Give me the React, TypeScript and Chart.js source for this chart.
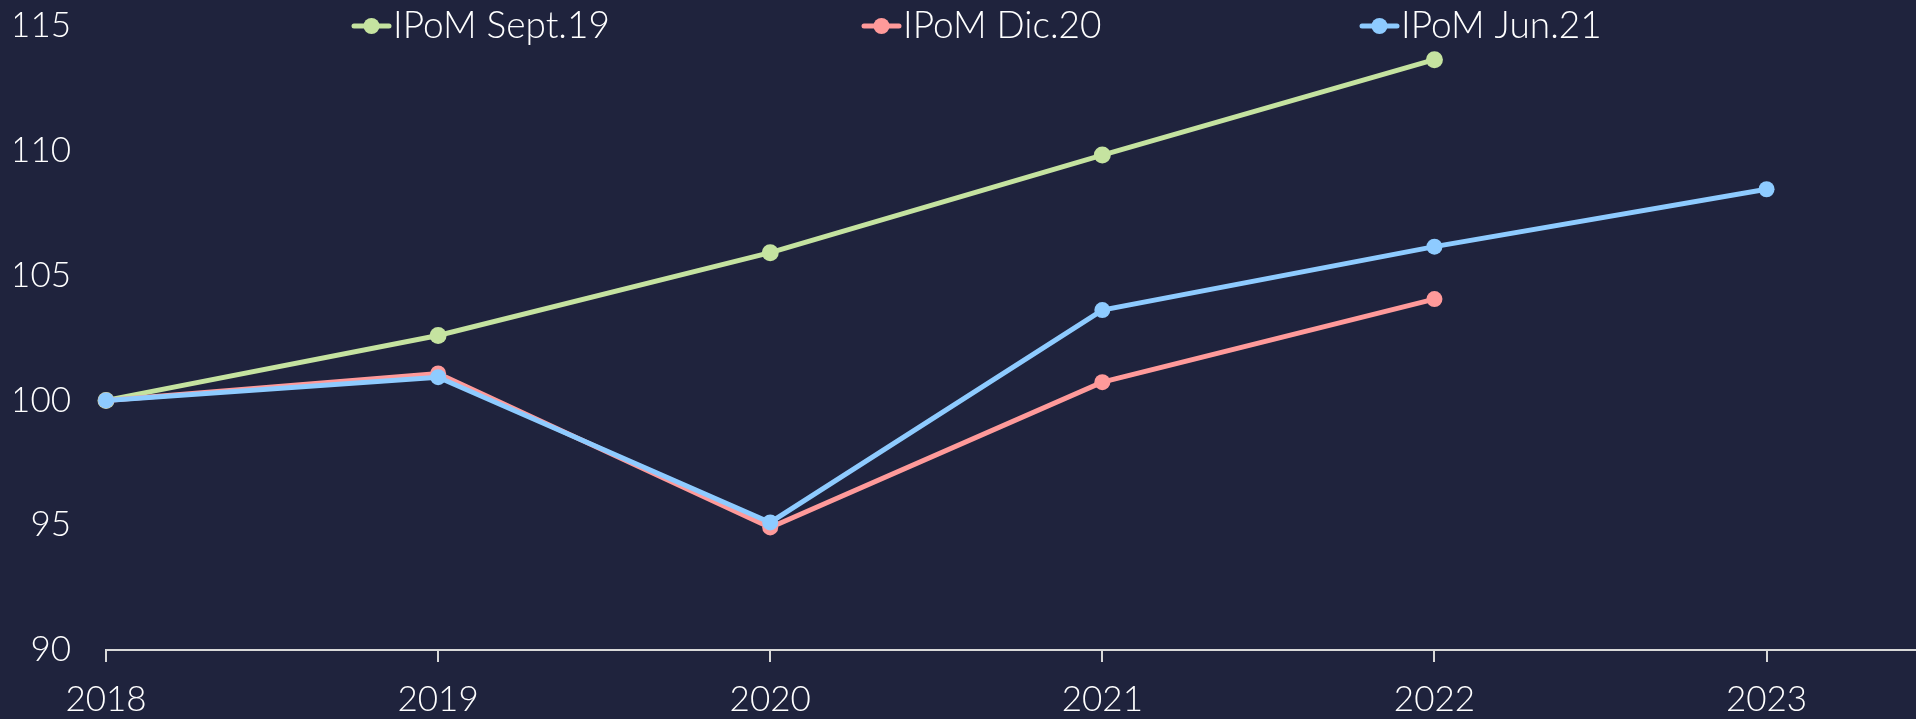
import React, { useEffect, useRef } from "react";
import { Chart, registerables } from "chart.js";

Chart.register(...registerables);

const years = [2018, 2019, 2020, 2021, 2022, 2023];
const seriesNames = ["IPoM Sept.19", "IPoM Dic.20", "IPoM Jun.21"];
const sept19 = [100, 102.6, 105.92, 109.83, 113.65];
const dic20 = [100, 101.08, 94.91, 100.73, 104.06];
const jun21 = [100, 100.93, 95.11, 103.62, 106.16, 108.46];
const yTicks = [90, 95, 100, 105, 110, 115];

const BG = "#1f233d";
const GREEN = "#c5e3a0";
const RED = "#ff9a9a";
const BLUE = "#8ecbff";
const FONT = "Lato, 'Open Sans', sans-serif";
const AXIS_FONT_SIZE = 35;
const LEGEND_FONT_SIZE = 37;
const FONT_WEIGHT = "300";

const legendStarts = [354, 864, 1362];

const toPoints = (vals: number[]) => vals.map((v, i) => ({ x: years[i], y: v }));

const bgPlugin = {
  id: "bg",
  beforeDraw(chart: any) {
    const { ctx, width, height } = chart;
    ctx.save();
    ctx.fillStyle = BG;
    ctx.fillRect(0, 0, width, height);
    ctx.restore();
  },
};

const legendPlugin = {
  id: "lineLegend",
  afterDraw(chart: any) {
    const { ctx } = chart;
    const y = 26;
    ctx.save();
    chart.data.datasets.forEach((ds: any, i: number) => {
      const x0 = legendStarts[i];
      ctx.strokeStyle = ds.borderColor;
      ctx.lineWidth = 5;
      ctx.lineCap = "round";
      ctx.beginPath();
      ctx.moveTo(x0, y);
      ctx.lineTo(x0 + 35, y);
      ctx.stroke();
      ctx.fillStyle = ds.borderColor;
      ctx.beginPath();
      ctx.arc(x0 + 17.5, y, 8, 0, Math.PI * 2);
      ctx.fill();
      ctx.fillStyle = "#ffffff";
      ctx.font = `${FONT_WEIGHT} ${LEGEND_FONT_SIZE}px ${FONT}`;
      ctx.textBaseline = "middle";
      ctx.textAlign = "left";
      ctx.fillText(ds.label, x0 + 39, y);
    });
    ctx.restore();
  },
};

const fitX = (scale: any) => {
  scale.paddingLeft = 0;
  scale.paddingRight = 0;
  scale.paddingTop = 0;
  scale.paddingBottom = 0;
  scale.height = 69;
};

const fitY = (scale: any) => {
  scale.paddingLeft = 0;
  scale.paddingRight = 0;
  scale.paddingTop = 0;
  scale.paddingBottom = 0;
  scale.width = 91;
};

export default function App() {
  const ref = useRef<HTMLCanvasElement | null>(null);

  useEffect(() => {
    document.body.style.margin = "0";
    const canvas = ref.current;
    if (!canvas) return;
    const mk = (label: string, vals: number[], color: string, order: number, r: number) => ({
      label,
      data: toPoints(vals),
      borderColor: color,
      backgroundColor: color,
      pointBackgroundColor: color,
      pointBorderColor: color,
      pointRadius: r,
      pointBorderWidth: 0,
      borderWidth: 5,
      tension: 0,
      order,
      clip: false as any,
    });
    const chart = new Chart(canvas, {
      type: "line",
      data: {
        datasets: [
          mk(seriesNames[0], sept19, GREEN, 2, 8.5),
          mk(seriesNames[1], dic20, RED, 1, 8),
          mk(seriesNames[2], jun21, BLUE, 0, 8),
        ],
      },
      options: {
        responsive: false,
        animation: false,
        layout: { autoPadding: false, padding: { top: 26, left: 15, right: 0, bottom: 0 } },
        plugins: {
          legend: { display: false },
          tooltip: { enabled: false },
        },
        scales: {
          x: {
            type: "linear",
            min: years[0],
            max: 2023.45,
            afterFit: fitX,
            ticks: {
              stepSize: 1,
              includeBounds: false,
              color: "#ffffff",
              padding: 17,
              font: { family: FONT, size: AXIS_FONT_SIZE, weight: FONT_WEIGHT as any },
              callback: (v: any) => (Number.isInteger(v) ? String(v) : ""),
              maxRotation: 0,
              minRotation: 0,
            },
            grid: {
              drawOnChartArea: false,
              drawTicks: true,
              tickLength: 12,
              color: "#d9d9d9",
              lineWidth: 2,
            },
            border: { display: true, color: "#d9d9d9", width: 2 },
          },
          y: {
            min: yTicks[0],
            max: yTicks[yTicks.length - 1],
            afterFit: fitY,
            afterBuildTicks: (scale: any) => {
              scale.ticks = yTicks.map((v) => ({ value: v }));
            },
            ticks: {
              color: "#ffffff",
              padding: 35,
              font: { family: FONT, size: AXIS_FONT_SIZE, weight: FONT_WEIGHT as any },
            },
            grid: { display: false, drawTicks: false },
            border: { display: false },
          },
        },
      },
      plugins: [bgPlugin, legendPlugin],
    });
    return () => chart.destroy();
  }, []);

  return (
    <div style={{ width: 1916, height: 719, background: BG }}>
      <canvas ref={ref} width={1916} height={719} style={{ display: "block" }} />
    </div>
  );
}
